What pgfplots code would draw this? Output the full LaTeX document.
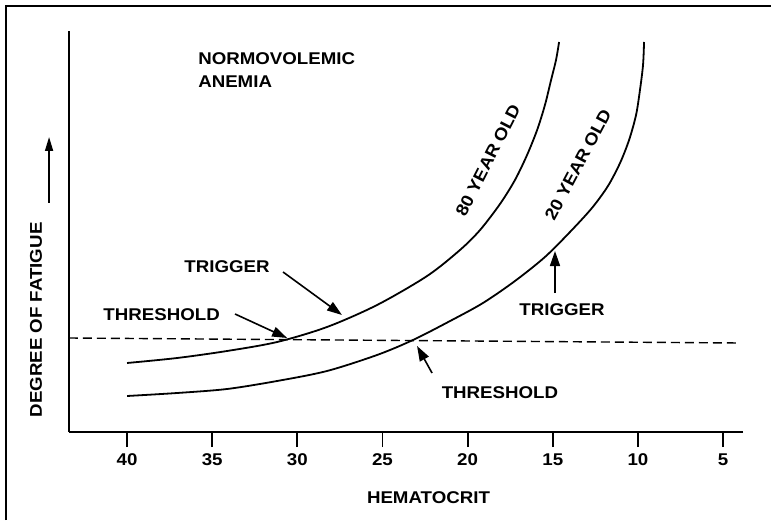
\documentclass[border=0pt]{standalone}
\usepackage{fontspec}
\setmainfont{Liberation Sans}[FakeStretch=1.1]
\usepackage{pgfplots}
\pgfplotsset{compat=1.18}
\usetikzlibrary{arrows.meta}
\newcommand\lf{\fontsize{17pt}{20pt}\selectfont\bfseries}

\pgfplotstableread{
x y
40.00 69
37.06 74
34.13 81
31.19 90
28.26 105
25.32 127
22.38 156
20.45 182
19.27 202
18.10 228
17.22 252
16.51 277
15.92 302
15.46 327
15.10 352
14.81 372
14.63 390
}\eighty

\pgfplotstableread{
x y
40.00 36
37.06 39
34.13 43
31.19 51
28.26 61
25.32 77
23.21 92
21.03 111
19.10 129
17.22 151
15.46 175
13.99 200
12.70 224
11.76 246
11.05 269
10.52 292
10.11 317
9.88 342
9.70 367
9.64 390
}\twenty

\begin{document}
\begin{tikzpicture}[every node/.style={font=\lf},
  ann/.style={line width=1.6pt, -{Triangle[length=15pt,width=10pt]}}]
\useasboundingbox (0pt,0pt) rectangle (771pt,520pt);
\fill[white] (0pt,0pt) rectangle (771pt,520pt);
\draw[line width=1.6pt] (6pt,0pt) -- (6pt,514pt) -- (771pt,514pt);
\begin{axis}[
  at={(69pt,88pt)}, anchor=south west,
  scale only axis, width=674pt, height=401pt,
  x dir=reverse, xmin=3.83, xmax=43.41, ymin=0, ymax=401,
  axis x line=bottom, axis y line=left,
  axis line style={-, line width=2.2pt},
  xtick={5,10,...,40}, ytick=\empty,
  tick align=outside, major tick length=15pt,
  tick style={line width=1.8pt, black},
  xticklabel style={font=\lf, yshift=-3pt},
  /pgf/number format/assume math mode=true,
  clip=false,
]
\addplot[black, line width=1.8pt, smooth] table[x=x,y=y] {\eighty};
\addplot[black, line width=1.8pt, smooth] table[x=x,y=y] {\twenty};
\addplot[black, line width=1.4pt, dash pattern=on 9pt off 5pt] coordinates {(43.41,94) (4.0,89)};

\node[font=\lf, anchor=base west, inner sep=0pt] at (axis cs:35.83,367) {NORMOVOLEMIC};
\node[font=\lf, anchor=base west, inner sep=0pt] at (axis cs:35.83,344) {ANEMIA};

\node[font=\lf, anchor=base, inner sep=0pt] at (axis cs:34.13,160) {TRIGGER};
\draw[ann] (axis cs:30.84,160) -- (axis cs:27.38,117);

\node[font=\lf, anchor=base, inner sep=0pt] at (axis cs:37.97,112) {THRESHOLD};
\draw[ann] (axis cs:33.66,118) -- (axis cs:30.60,94);

\node[font=\lf, rotate=63, inner sep=0pt] at (axis cs:18.80,272) {80 YEAR OLD};
\node[font=\lf, rotate=62, inner sep=0pt] at (axis cs:13.52,267) {20 YEAR OLD};

\draw[ann] (axis cs:14.87,139) -- (axis cs:14.87,181);
\node[font=\lf, anchor=base, inner sep=0pt] at (axis cs:14.46,117) {TRIGGER};

\draw[ann] (axis cs:22.09,59) -- (axis cs:22.97,86);
\node[font=\lf, anchor=base, inner sep=0pt] at (axis cs:18.10,34) {THRESHOLD};

\node[font=\lf, anchor=base, inner sep=0pt] at (axis cs:22.3,-71) {HEMATOCRIT};

\node[font=\lf, rotate=90, anchor=base, inner sep=0pt] at (axis cs:45.0,112) {DEGREE OF FATIGUE};
\draw[line width=1.6pt, -{Triangle[length=14pt,width=8pt]}] (axis cs:44.58,229) -- (axis cs:44.58,295);
\end{axis}
\end{tikzpicture}
\end{document}
